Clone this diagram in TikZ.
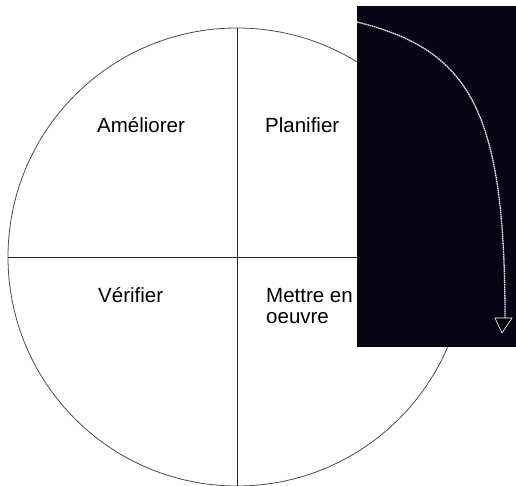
\documentclass[tikz,border=0pt]{standalone}
\usepackage{fontspec}
\setmainfont{Liberation Sans}
\definecolor{darkbg}{RGB}{5,5,22}
\begin{document}
\begin{tikzpicture}[x=1pt,y=-1pt,
  lbl/.style={anchor=base west,inner sep=0pt,font=\fontsize{20.5}{21}\selectfont,align=left},
  divline/.style={line width=1pt,black!85},
  ring/.style={circle,draw=black!70,line width=0.8pt,minimum size=458pt,inner sep=0pt}]
\useasboundingbox (0,0) rectangle (516,486);
\node[ring] (c) at (237,257) {};
\draw[divline] (c.north) -- (c.south);
\draw[divline] (c.west) -- (c.east);
\node[lbl] (a) at (97,133) {Améliorer};
\node[lbl] (p) at (265,133) {Planifier};
\node[lbl] (v) at (98,302) {Vérifier};
\node[lbl] (m) at (266,323) {Mettre en\\oeuvre};
\fill[darkbg] (357,6) rectangle (516,347);
\coordinate (s) at (357,22);
\coordinate (e) at (505,318);
\draw[white!80!gray,line width=1.3pt,dash pattern=on 1.6pt off 0.6pt]
  (s) .. controls (470,50) and (505,110) .. (e);
\draw[white,fill=black,line width=0.6pt] (495,318) -- (512,318) -- (502,333) -- cycle;
\end{tikzpicture}
\end{document}
